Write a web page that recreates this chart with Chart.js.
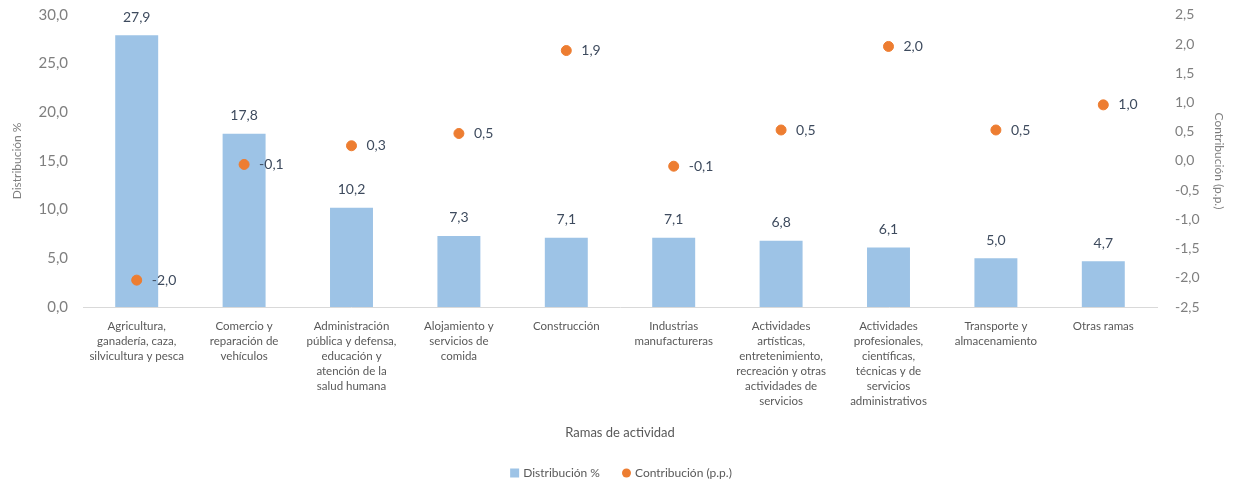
<!DOCTYPE html>
<html><head><meta charset="utf-8">
<script src="https://cdn.jsdelivr.net/npm/chart.js@4"></script>
<style>html,body{margin:0;padding:0;background:#fff}#w{width:1236px;height:484px}</style>
</head><body><div id="w"><canvas id="c" width="1236" height="484"></canvas></div>
<script>
const categories = [
  ["Agricultura,","ganadería, caza,","silvicultura y pesca"],
  ["Comercio y","reparación de","vehículos"],
  ["Administración","pública y defensa,","educación y","atención de la","salud humana"],
  ["Alojamiento y","servicios de","comida"],
  ["Construcción"],
  ["Industrias","manufactureras"],
  ["Actividades","artísticas,","entretenimiento,","recreación y otras","actividades de","servicios"],
  ["Actividades","profesionales,","científicas,","técnicas y de","servicios","administrativos"],
  ["Transporte y","almacenamiento"],
  ["Otras ramas"]
];
const distribucion = [27.9, 17.8, 10.2, 7.3, 7.1, 7.1, 6.8, 6.1, 5.0, 4.7];
const contribucion = [-2.04, -0.06, 0.26, 0.47, 1.89, -0.09, 0.53, 1.96, 0.53, 0.96];
const seriesNames = ["Distribución %", "Contribución (p.p.)"];
const axisTitles = {left: "Distribución %", right: "Contribución (p.p.)", x: "Ramas de actividad"};

const FONT = "Lato, 'Open Sans', sans-serif";
const BAR_COLOR = '#9DC3E6', DOT_COLOR = '#ED7D31';
const fmt = v => v.toFixed(1).replace('.', ',');

const labelPlugin = {
  id: 'vlabels',
  afterDatasetsDraw(chart) {
    const ctx = chart.ctx;
    ctx.save();
    ctx.font = "14px " + FONT;
    ctx.fillStyle = "#3E4B5E";
    chart.getDatasetMeta(0).data.forEach((el, i) => {
      ctx.textAlign = 'center'; ctx.textBaseline = 'middle';
      ctx.fillText(fmt(distribucion[i]), el.x, el.y - 18);
    });
    chart.getDatasetMeta(1).data.forEach((el, i) => {
      ctx.textAlign = 'left'; ctx.textBaseline = 'middle';
      ctx.fillText(fmt(contribucion[i]), el.x + 15, el.y);
    });
    ctx.restore();
  }
};

const legendPlugin = {
  id: 'customLegend',
  afterDraw(chart) {
    const ctx = chart.ctx;
    ctx.save();
    ctx.font = "12px " + FONT;
    ctx.fillStyle = '#595959';
    ctx.textBaseline = 'middle'; ctx.textAlign = 'left';
    const y = 473, box = 9, gap = 4, between = 22;
    const w1 = ctx.measureText(seriesNames[0]).width, w2 = ctx.measureText(seriesNames[1]).width;
    const total = box + gap + w1 + between + box + gap + w2;
    let x = 621 - total / 2;
    ctx.fillStyle = BAR_COLOR; ctx.fillRect(x, y - box / 2, box, box);
    ctx.fillStyle = '#595959'; ctx.fillText(seriesNames[0], x + box + gap, y);
    x += box + gap + w1 + between;
    ctx.fillStyle = DOT_COLOR; ctx.beginPath(); ctx.arc(x + box / 2, y, box / 2, 0, Math.PI * 2); ctx.fill();
    ctx.fillStyle = '#595959'; ctx.fillText(seriesNames[1], x + box + gap, y);
    ctx.restore();
  }
};

new Chart(document.getElementById('c'), {
  type: 'bar',
  data: {
    labels: categories,
    datasets: [
      {label: seriesNames[0], data: distribucion, backgroundColor: BAR_COLOR, yAxisID: 'y',
       categoryPercentage: 1, barPercentage: 0.4, order: 2},
      {type: 'line', label: seriesNames[1], data: contribucion, yAxisID: 'y1', showLine: false,
       pointRadius: 5, pointBackgroundColor: DOT_COLOR, pointBorderColor: DOT_COLOR, order: 1}
    ]
  },
  options: {
    responsive: false, animation: false, devicePixelRatio: 1,
    layout: {padding: {top: 1, right: 0, left: 0, bottom: 0}},
    plugins: {
      tooltip: {enabled: false},
      legend: {display: false}
    },
    scales: {
      x: {
        grid: {display: false},
        border: {display: true, color: '#D9D9D9', width: 1},
        ticks: {font: {family: FONT, size: 11.5, lineHeight: 1.3}, color: '#595959', maxRotation: 0, autoSkip: false, padding: 4},
        title: {display: true, text: axisTitles.x, font: {family: FONT, size: 13}, color: '#595959', padding: {top: 14, bottom: 43}},
        afterFit(s) { s.height = 177; }
      },
      y: {
        position: 'left', min: 0, max: 30,
        grid: {display: false}, border: {display: false},
        ticks: {stepSize: 5, callback: v => fmt(v), font: {family: FONT, size: 15, lineHeight: 0.7}, color: '#7F7F7F', padding: 7},
        title: {display: true, text: axisTitles.left, font: {family: FONT, size: 12}, color: '#7F7F7F', padding: {top: 10, bottom: 0}},
        afterFit(s) { s.width = 83; }
      },
      y1: {
        position: 'right', min: -2.5, max: 2.5,
        grid: {display: false}, border: {display: false},
        ticks: {stepSize: 0.5, callback: v => fmt(v), font: {family: FONT, size: 14, lineHeight: 0.7}, color: '#7F7F7F', padding: 10},
        title: {display: true, text: axisTitles.right, font: {family: FONT, size: 12}, color: '#7F7F7F', padding: {top: 10, bottom: 0}},
        afterFit(s) { s.width = 79; }
      }
    }
  },
  plugins: [labelPlugin, legendPlugin]
});
</script></body></html>
